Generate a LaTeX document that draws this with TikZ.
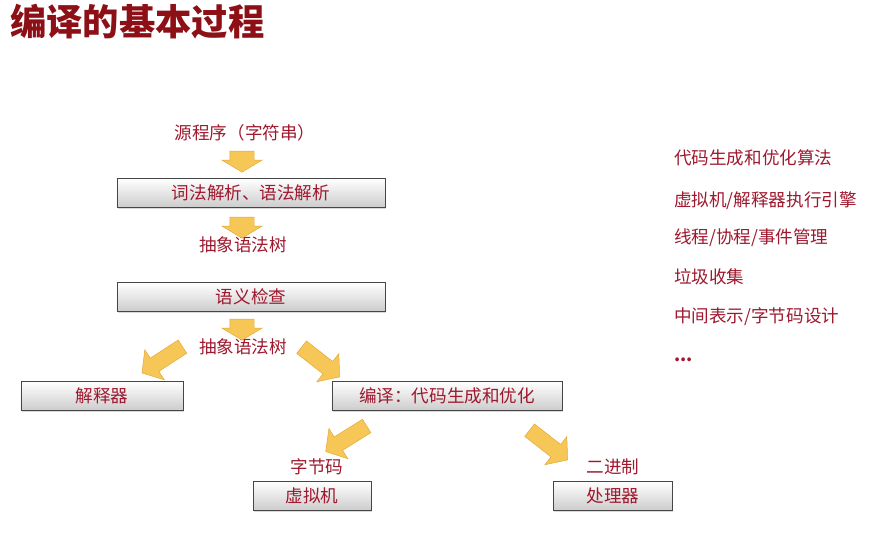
\documentclass[tikz,border=0pt]{standalone}
\usepackage{fontspec}
\setmainfont{Noto Sans CJK SC}
\usetikzlibrary{shapes.arrows,shadows}
\definecolor{titred}{RGB}{140,16,22}
\definecolor{txtred}{RGB}{158,24,46}
\definecolor{arrfill}{RGB}{246,198,86}
\definecolor{arrline}{RGB}{226,168,56}
\begin{document}
\begin{tikzpicture}[x=0.03cm,y=-0.03cm,
	box/.style={draw=gray!55!black,top color=white,bottom color=gray!40,minimum height=0.87cm,font=\fontsize{15}{18}\selectfont,text=txtred,drop shadow={opacity=0.3,shadow xshift=0.7pt,shadow yshift=-0.9pt}},
	blk/.style={single arrow,draw=arrline,fill=arrfill,inner xsep=0pt},
	dnarr/.style={blk,minimum height=0.63cm,inner ysep=0.36cm,single arrow head extend=0.24cm,single arrow tip angle=118,rotate=-90},
	dgarr/.style={blk,minimum height=1.45cm,inner ysep=0.23cm,single arrow head extend=0.3cm,single arrow tip angle=100,rotate=#1},
	lbl/.style={text=txtred,font=\fontsize{15}{18}\selectfont}]
	\useasboundingbox (0,0) rectangle (894,538);
	\node[text=titred,font=\fontsize{31}{36}\selectfont\bfseries,anchor=west] (title) at (6,22) {编译的基本过程};
	
	\node[lbl] (src) at (245,133) {源程序（字符串）};
	\node[box,minimum width=8.04cm] (lex) at (251,193) {词法解析、语法解析};
	\node[lbl] (ast1) at (243,245) {抽象语法树};
	\node[box,minimum width=8.04cm] (sem) at (251,297) {语义检查};
	\node[lbl] (ast2) at (243,347) {抽象语法树};
	\node[box,minimum width=4.86cm] (interp) at (102,396) {解释器};
	\node[box,minimum width=6.9cm] (comp) at (447,396) {编译：代码生成和优化};
	\node[lbl] (bc) at (317,467) {字节码};
	\node[lbl] (bin) at (613,467) {二进制};
	\node[box,minimum width=3.54cm] (vm) at (312,496) {虚拟机};
	\node[box,minimum width=3.57cm] (cpu) at (613,496) {处理器};
	
	\foreach \y [count=\i] in {158,224,326}
	\node[dnarr] (down\i) at (242,\y) {};
	\foreach \x/\y/\r [count=\i] in {165/358/213,318/360/-38,349/437/212,546/443/-38}
	\node[dgarr=\r] (side\i) at (\x,\y) {};
	
	\foreach \y/\t [count=\i] in {158/{代码生成和优化算法},201/{虚拟机/解释器执行引擎},238/{线程/协程/事件管理},277/{垃圾收集},317/{中间表示/字节码设计}}
	\node[lbl,anchor=west] (topic\i) at (670,\y) {\t};
	\node[lbl,anchor=west,font=\fontsize{15}{18}\selectfont\bfseries] (more) at (670,360) {...};
\end{tikzpicture}
\end{document}
